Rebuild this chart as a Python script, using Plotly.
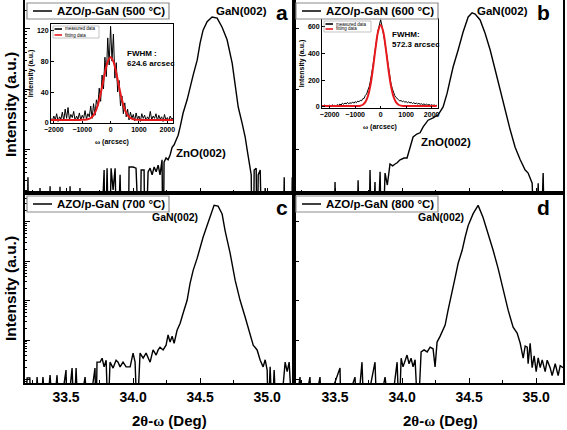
import numpy as np
import plotly.graph_objects as go

W, H = 567, 430

# ---------------- main 2theta-omega scans (log10 of counts; -1 = empty channel) -------------
two_theta_a = [33.194, 33.209, 33.216, 33.224, 33.300, 33.306, 33.312, 33.375, 33.381, 33.388,
               33.448, 33.455, 33.462, 33.522, 33.530, 33.537, 33.597, 33.604, 33.611, 33.754,
               33.784, 33.791, 33.806, 33.821, 33.836, 33.851, 33.866, 33.881, 33.903, 33.918,
               33.963, 33.970, 34.000, 34.022, 34.030, 34.052, 34.060, 34.082, 34.090, 34.112,
               34.127, 34.142, 34.157, 34.172, 34.187, 34.201, 34.216, 34.224, 34.231, 34.246,
               34.261, 34.276, 34.291, 34.306, 34.321, 34.336, 34.351, 34.373, 34.403, 34.425,
               34.448, 34.478, 34.500, 34.522, 34.552, 34.589, 34.627, 34.664, 34.701, 34.739,
               34.761, 34.784, 34.813, 34.836, 34.851, 34.866, 34.881, 34.888, 34.896, 34.903,
               34.918, 34.925, 34.933, 34.948, 34.963, 34.985, 35.007, 35.119, 35.127, 35.134,
               35.180, 35.187, 35.195, 35.200]
log_counts_a = [-1, -1, 0.53, -1, -1, 0.35, -1, -1, 0.38, -1,
                -1, 0.37, -1, -1, 0.38, -1, -1, 0.35, -1, -1,
                0.65, -1, 0.68, -1, 0.68, 0.32, 0.68, -1, 0.57, -1,
                -1, 0.70, 0.70, 0.68, -1, -1, 0.65, 0.65, -1, 0.62,
                0.68, 0.57, 0.70, 0.62, 0.73, 0.57, 0.82, -1, 0.78, 0.85,
                0.82, 0.90, 1.03, 1.07, 1.15, 1.23, 1.37, 1.60, 1.82, 2.03,
                2.23, 2.48, 2.77, 2.98, 3.12, 3.20, 3.18, 3.03, 2.82, 2.43,
                2.10, 1.70, 1.43, 1.20, 0.98, 0.73, 0.57, -1, -1, 0.65,
                0.68, -1, 0.57, 0.65, -1, 0.35, -1, -1, 0.53, -1,
                -1, 0.53, -1, -1]

two_theta_b = [33.194, 33.490, 33.500, 33.510, 33.660, 33.672, 33.685, 33.750, 33.761, 33.775,
               33.798, 33.810, 33.836, 33.850, 33.873, 33.890, 33.910, 33.930, 33.948, 33.963,
               33.985, 34.015, 34.037, 34.060, 34.082, 34.110, 34.134, 34.157, 34.194, 34.231,
               34.269, 34.306, 34.336, 34.358, 34.381, 34.418, 34.455, 34.493, 34.522, 34.545,
               34.582, 34.619, 34.657, 34.694, 34.731, 34.769, 34.806, 34.843, 34.881, 34.918,
               34.940, 34.970, 34.993, 35.015, 35.030, 35.052, 35.065, 35.200]
log_counts_b = [-1, -1, 0.45, -1, -1, 0.48, -1, -1, 0.65, -1,
                0.45, -1, 0.62, -1, 0.60, 0.40, 0.75, 0.72, 0.75, 0.77,
                0.82, 0.85, 0.85, 1.03, 1.20, 1.25, 1.27, 1.37, 1.48, 1.52,
                1.57, 1.70, 1.93, 2.15, 2.37, 2.65, 2.95, 3.20, 3.27, 3.25,
                3.15, 2.93, 2.65, 2.32, 1.98, 1.65, 1.32, 1.03, 0.82, 0.65,
                0.60, 0.43, -1, 0.43, -1, 0.60, -1, -1]

two_theta_c = [33.194, 33.210, 33.230, 33.240, 33.270, 33.284, 33.306, 33.328, 33.351, 33.381,
               33.403, 33.433, 33.448, 33.500, 33.507, 33.545, 33.560, 33.575, 33.590, 33.642,
               33.664, 33.716, 33.724, 33.731, 33.754, 33.769, 33.784, 33.799, 33.813, 33.828,
               33.851, 33.873, 33.888, 33.903, 33.925, 33.948, 33.978, 34.000, 34.015, 34.030,
               34.052, 34.075, 34.097, 34.127, 34.149, 34.172, 34.187, 34.201, 34.224, 34.246,
               34.261, 34.276, 34.291, 34.306, 34.328, 34.351, 34.373, 34.403, 34.425, 34.448,
               34.478, 34.500, 34.522, 34.552, 34.575, 34.604, 34.634, 34.664, 34.686, 34.724,
               34.761, 34.798, 34.836, 34.873, 34.896, 34.925, 34.948, 34.970, 34.985, 35.000,
               35.007, 35.022, 35.037, 35.052, 35.067, 35.097, 35.134, 35.149, 35.164, 35.187,
               35.200]
log_counts_c = [-1, 0.04, 0.04, -1, -1, 0.06, -1, 0.06, -1, 0.11,
                -1, 0.11, -1, 0.24, -1, 0.29, -1, 0.29, -1, 0.06,
                -1, 0.29, -1, 0.44, 0.44, 0.54, 0.32, 0.49, -1, 0.44,
                0.29, 0.49, 0.44, 0.32, 0.44, 0.32, 0.32, 0.67, 0.44, -1,
                0.67, 0.54, 0.67, 0.44, 0.75, 0.62, 0.75, 0.82, 0.75, 0.87,
                1.13, 0.95, 1.10, 0.92, 1.25, 1.43, 1.68, 2.01, 2.44, 2.77,
                3.08, 3.35, 3.61, 3.91, 4.16, 4.42, 4.40, 4.20, 3.78, 3.20,
                2.52, 2.01, 1.58, 1.18, 0.87, 0.75, 0.49, 0.32, 0.50, 0.24,
                -1, 0.32, -1, 0.24, -1, -1, 0.44, 0.20, 0.44, -1,
                -1]

two_theta_d = [33.194, 33.239, 33.254, 33.313, 33.328, 33.388, 33.403, 33.537, 33.545, 33.649,
               33.664, 33.701, 33.716, 33.798, 33.813, 33.873, 33.910, 33.963, 33.978, 33.993,
               34.007, 34.022, 34.037, 34.052, 34.067, 34.082, 34.097, 34.119, 34.142, 34.164,
               34.187, 34.209, 34.231, 34.246, 34.261, 34.284, 34.299, 34.321, 34.343, 34.373,
               34.396, 34.418, 34.448, 34.470, 34.493, 34.530, 34.567, 34.604, 34.642, 34.679,
               34.716, 34.754, 34.791, 34.828, 34.858, 34.881, 34.903, 34.918, 34.933, 34.940,
               34.955, 34.970, 34.985, 35.000, 35.015, 35.030, 35.045, 35.067, 35.082, 35.104,
               35.119, 35.142, 35.164, 35.179, 35.200]
log_counts_d = [-1, 0.06, -1, 0.06, -1, 0.06, -1, 0.29, -1, 0.06,
                -1, 0.44, -1, 0.44, -1, 0.06, -1, 0.44, -1, 0.54,
                0.32, 0.50, 0.62, 0.40, 0.54, 0.32, 0.50, -1, 0.70, 0.75,
                0.70, 0.82, 0.78, 0.32, 0.95, 1.10, 1.20, 1.38, 1.76, 2.19,
                2.59, 2.95, 3.28, 3.61, 3.91, 4.21, 4.42, 4.11, 3.71, 3.28,
                2.82, 2.27, 1.76, 1.33, 1.18, 0.92, 0.54, 0.85, 0.82, 0.40,
                0.92, 0.30, 0.60, 0.20, 0.55, 0.30, 0.50, 0.20, 0.49, 0.30,
                0.10, 0.40, 0.10, 0.35, 0.30]

# ---------------- rocking-curve insets ----------------
omega_a = [-2100, -2050, -2000, -1950, -1900, -1850, -1800, -1750, -1700, -1650,
           -1600, -1550, -1500, -1450, -1400, -1350, -1300, -1250, -1200, -1150,
           -1100, -1050, -1000, -950, -900, -850, -800, -750, -700, -650,
           -600, -550, -500, -450, -400, -350, -300, -250, -200, -150,
           -100, -50, 0, 50, 100, 150, 200, 250, 300, 350,
           400, 450, 500, 550, 600, 650, 700, 750, 800, 850,
           900, 950, 1000, 1050, 1100, 1150, 1200, 1250, 1300, 1350,
           1400, 1450, 1500, 1550, 1600, 1650, 1700, 1750, 1800, 1850,
           1900, 1950, 2000, 2050, 2100, 2150, 2200]
measured_a = [6, 3, 9, 4, 12, 2, 8, 5, 14, 3,
              18, 6, 20, 4, 11, 7, 15, 3, 9, 5,
              13, 4, 10, 6, 16, 5, 12, 8, 22, 6,
              25, 10, 30, 22, 45, 28, 62, 44, 85, 60,
              110, 75, 125, 80, 115, 58, 78, 40, 55, 22,
              35, 12, 26, 8, 18, 4, 14, 6, 11, 3,
              13, 5, 9, 2, 12, 6, 10, 3, 8, 5,
              15, 4, 9, 6, 12, 3, 10, 5, 8, 2,
              11, 4, 7, 3, 9, 5, 6]
omega_fit_a = [-2100, -2000, -1900, -1800, -1700, -1600, -1500, -1400, -1300, -1200,
               -1100, -1000, -900, -800, -700, -600, -500, -400, -300, -200,
               -100, 0, 100, 200, 300, 400, 500, 600, 700, 800,
               900, 1000, 1100, 1200, 1300, 1400, 1500, 1600, 1700, 1800,
               1900, 2000, 2100, 2200]
fit_a = [4, 4, 4, 4, 4, 4, 4, 4, 4, 4,
         4, 4.1, 4.3, 4.9, 6.5, 10.2, 17.7, 30, 46.7, 64.9,
         79.4, 85, 79.4, 64.9, 46.7, 30, 17.7, 10.2, 6.5, 4.9,
         4.3, 4.1, 4, 4, 4, 4, 4, 4, 4, 4,
         4, 4, 4, 4]

omega_b = [-2300, -2250, -2200, -2150, -2100, -2050, -2000, -1950, -1900, -1850,
           -1800, -1750, -1700, -1650, -1600, -1550, -1500, -1450, -1400, -1350,
           -1300, -1250, -1200, -1150, -1100, -1050, -1000, -950, -900, -850,
           -800, -750, -700, -650, -600, -550, -500, -450, -400, -350,
           -300, -250, -200, -150, -100, -50, 0, 50, 100, 150,
           200, 250, 300, 350, 400, 450, 500, 550, 600, 650,
           700, 750, 800, 850, 900, 950, 1000, 1050, 1100, 1150,
           1200, 1250, 1300, 1350, 1400, 1450, 1500, 1550, 1600, 1650,
           1700, 1750, 1800, 1850, 1900, 1950, 2000, 2050, 2100, 2150,
           2200]
measured_b = [10, 4, 12, 6, 9, 3, 11, 5, 14, 7,
              10, 6, 16, 9, 20, 12, 26, 18, 28, 20,
              32, 22, 30, 24, 36, 26, 38, 30, 42, 36,
              48, 44, 60, 62, 85, 95, 125, 150, 195, 245,
              310, 380, 450, 520, 575, 615, 655, 610, 565, 505,
              440, 365, 300, 235, 180, 140, 105, 85, 70, 58,
              52, 44, 46, 38, 42, 34, 38, 30, 36, 28,
              32, 24, 30, 22, 27, 20, 25, 18, 22, 16,
              21, 14, 19, 12, 17, 10, 15, 9, 13, 8,
              11]
omega_fit_b = [-2300, -2200, -2100, -2000, -1900, -1800, -1700, -1600, -1500, -1400,
               -1300, -1200, -1100, -1000, -900, -800, -700, -600, -500, -400,
               -300, -200, -100, 0, 100, 200, 300, 400, 500, 600,
               700, 800, 900, 1000, 1100, 1200, 1300, 1400, 1500, 1600,
               1700, 1800, 1900, 2000, 2100, 2200]
fit_b = [5, 5, 5, 5, 5, 5, 5, 5, 5, 5,
         5, 5, 5, 5, 5.6, 7.7, 14.6, 33.9, 78.4, 162,
         290, 440, 566, 615, 566, 440, 290, 162, 78.4, 33.9,
         14.6, 7.7, 5.6, 5, 5, 5, 5, 5, 5, 5,
         5, 5, 5, 5, 5, 5]

# ---------------- labels / ticks ----------------
x_tick_vals = [33.5, 34.0, 34.5, 35.0]
inset_x_ticks = [-2000, -1000, 0, 1000, 2000]
inset_a_y_ticks = [0, 40, 80, 120]
inset_b_y_ticks = [0, 200, 400, 600]
sample_labels = ["AZO/p-GaN (500 °C)", "AZO/p-GaN (600 °C)",
                 "AZO/p-GaN (700 °C)", "AZO/p-GaN (800 °C)"]
panel_letters = ["a", "b", "c", "d"]
fwhm_a = "FWHM :<br>624.6 arcsec"
fwhm_b = "FWHM:<br>572.3 arcsec"
x_title = ("2<span style='font-family:Liberation Serif'>θ</span>-"
           "<span style='font-family:Liberation Serif'>ω</span> (Deg)")
y_title = "Intensity (a.u.)"

scans = [(two_theta_a, log_counts_a), (two_theta_b, log_counts_b),
         (two_theta_c, log_counts_c), (two_theta_d, log_counts_d)]
for t, l in scans:
    assert len(t) == len(l)
assert len(omega_a) == len(measured_a) and len(omega_fit_a) == len(fit_a)
assert len(omega_b) == len(measured_b) and len(omega_fit_b) == len(fit_b)

FAM = "Liberation Sans, Arial, sans-serif"


def bf(size, color="black"):
    return dict(family=FAM, size=size, color=color, weight="bold")


def fx(p):
    return p / W


def fy(p):
    return 1 - p / H


cols = [(25, 294), (294, 563)]
rows = [(0, 193), (193, 383)]
yranges = [[0.267, 3.483], [-0.089, 4.734]]

fig = go.Figure()
layout = {}
for i, (tt, lc) in enumerate(scans):
    r, c = divmod(i, 2)
    xn = "x" if i == 0 else f"x{i + 1}"
    yn = "y" if i == 0 else f"y{i + 1}"
    fig.add_trace(go.Scatter(x=tt, y=np.power(10.0, lc), mode="lines",
                             line=dict(color="black", width=1.4),
                             xaxis=xn, yaxis=yn, showlegend=False,
                             name=sample_labels[i]))
    xa = dict(domain=[fx(cols[c][0]), fx(cols[c][1])], anchor=yn, automargin=False,
              range=[33.194, 35.2], tickvals=x_tick_vals, tickformat=".1f",
              ticks="inside", ticklen=5, tickwidth=1.2, tickcolor="black",
              minor=dict(ticks="inside", ticklen=3, dtick=0.25, tick0=33.25,
                         tickcolor="black", showgrid=False),
              showticklabels=(r == 1), tickfont=bf(14),
              showline=True, linewidth=1.6, linecolor="black", mirror=True,
              showgrid=False, zeroline=False)
    ya = dict(domain=[fy(rows[r][1]), fy(rows[r][0])], anchor=xn, type="log",
              automargin=False,
              range=yranges[r], dtick=1, ticks="inside", ticklen=5, tickwidth=1.2,
              tickcolor="black",
              minor=dict(ticks="inside", ticklen=2.5, dtick="D1", tickcolor="black",
                         showgrid=False),
              showticklabels=False, showline=True, linewidth=1.6, linecolor="black",
              mirror=True, showgrid=False, zeroline=False)
    layout["xaxis" if i == 0 else f"xaxis{i + 1}"] = xa
    layout["yaxis" if i == 0 else f"yaxis{i + 1}"] = ya

# insets
insets = [
    dict(om=omega_a, me=measured_a, of=omega_fit_a, fi=fit_a, n=5,
         xd=(51, 173), yd=(24, 123), xr=[-2100, 2200], yr=[0, 128], yt=inset_a_y_ticks),
    dict(om=omega_b, me=measured_b, of=omega_fit_b, fi=fit_b, n=6,
         xd=(322, 438), yd=(19, 108), xr=[-2300, 2250], yr=[-10, 660], yt=inset_b_y_ticks),
]
for ins in insets:
    n = ins["n"]
    fig.add_trace(go.Scatter(x=ins["om"], y=ins["me"], mode="lines",
                             line=dict(color="black", width=1),
                             xaxis=f"x{n}", yaxis=f"y{n}", showlegend=False,
                             name="measured data"))
    fig.add_trace(go.Scatter(x=ins["of"], y=ins["fi"], mode="lines",
                             line=dict(color="#e8191c", width=2, shape="spline"),
                             xaxis=f"x{n}", yaxis=f"y{n}", showlegend=False,
                             name="fitting data"))
    layout[f"xaxis{n}"] = dict(domain=[fx(ins["xd"][0]), fx(ins["xd"][1])], anchor=f"y{n}",
                               automargin=False,
                               range=ins["xr"], tickvals=inset_x_ticks,
                               ticks="inside", ticklen=2.5, tickcolor="black",
                               tickfont=bf(7), showline=True, linewidth=1,
                               linecolor="black", mirror=True, showgrid=False,
                               zeroline=False,
                               title=dict(text="<span style='font-family:Liberation Serif'>ω</span> (arcsec)",
                                          font=bf(7), standoff=6))
    layout[f"yaxis{n}"] = dict(domain=[fy(ins["yd"][1]), fy(ins["yd"][0])], anchor=f"x{n}",
                               automargin=False,
                               range=ins["yr"], tickvals=ins["yt"],
                               ticks="inside", ticklen=2.5, tickcolor="black",
                               tickfont=bf(7), showline=True, linewidth=1,
                               linecolor="black", mirror=True, showgrid=False,
                               zeroline=False,
                               title=dict(text=y_title, font=bf(7), standoff=2))

shapes = []
annotations = []

# main axis titles
for yy in (105, 289):
    annotations.append(dict(text=y_title, xref="paper", yref="paper", x=fx(10), y=fy(yy),
                            xanchor="center", yanchor="middle", textangle=-90,
                            showarrow=False, font=bf(15.5)))
for xx in (169, 440):
    annotations.append(dict(text=x_title, xref="paper", yref="paper", x=fx(xx), y=fy(420),
                            xanchor="center", yanchor="middle", showarrow=False, font=bf(15)))

# sample legends (boxes with line samples)
legend_boxes = [(27, 3), (296, 3), (27, 196), (296, 196)]
for (bx, by), lab in zip(legend_boxes, sample_labels):
    shapes.append(dict(type="rect", xref="paper", yref="paper",
                       x0=fx(bx), x1=fx(bx + 142), y0=fy(by + 16), y1=fy(by),
                       line=dict(color="#8c8c8c", width=1.2), fillcolor="white", layer="above"))
    shapes.append(dict(type="line", xref="paper", yref="paper",
                       x0=fx(bx + 6), x1=fx(bx + 25), y0=fy(by + 8), y1=fy(by + 8),
                       line=dict(color="black", width=1.5), layer="above"))
    annotations.append(dict(text=lab, xref="paper", yref="paper", x=fx(bx + 28), y=fy(by + 8),
                            xanchor="left", yanchor="middle", showarrow=False, font=bf(11.5)))

# panel letters
for (lx, ly), let in zip([(282, 13), (543, 13), (282, 207), (543, 207)], panel_letters):
    annotations.append(dict(text=let, xref="paper", yref="paper", x=fx(lx), y=fy(ly),
                            xanchor="center", yanchor="middle", showarrow=False, font=bf(21)))

# peak labels
for (lx, ly, txt, sz) in [(241, 11, "GaN(002)", 11.5), (502, 11, "GaN(002)", 11.5),
                          (201, 153, "ZnO(002)", 11.5), (446, 142, "ZnO(002)", 11.5),
                          (175, 217, "GaN(002)", 10.5), (441, 217, "GaN(002)", 10.5)]:
    annotations.append(dict(text=txt, xref="paper", yref="paper", x=fx(lx), y=fy(ly),
                            xanchor="center", yanchor="middle", showarrow=False, font=bf(sz)))

# FWHM labels
annotations.append(dict(text=fwhm_a, xref="paper", yref="paper", x=fx(125), y=fy(59),
                        xanchor="left", yanchor="middle", showarrow=False, font=bf(8),
                        align="left"))
annotations.append(dict(text=fwhm_b, xref="paper", yref="paper", x=fx(390), y=fy(39),
                        xanchor="left", yanchor="middle", showarrow=False, font=bf(8),
                        align="left"))

# inset legends
for (bx, by, bw, bh) in [(53, 26, 46, 12), (324, 21, 47, 11)]:
    shapes.append(dict(type="rect", xref="paper", yref="paper",
                       x0=fx(bx), x1=fx(bx + bw), y0=fy(by + bh), y1=fy(by),
                       line=dict(color="#9a9a9a", width=0.6), fillcolor="rgba(0,0,0,0)",
                       layer="above"))
    for k, (lab, col) in enumerate([("measured data", "black"), ("fitting data", "#e8191c")]):
        yy = by + 3 + k * (bh - 6)
        shapes.append(dict(type="line", xref="paper", yref="paper",
                           x0=fx(bx + 1.5), x1=fx(bx + 9), y0=fy(yy), y1=fy(yy),
                           line=dict(color=col, width=1.6), layer="above"))
        annotations.append(dict(text=lab, xref="paper", yref="paper", x=fx(bx + 10), y=fy(yy),
                                xanchor="left", yanchor="middle", showarrow=False,
                                font=dict(family=FAM, size=4.5, color="black")))

fig.update_layout(width=W, height=H, margin=dict(l=0, r=0, t=0, b=0, pad=0),
                  paper_bgcolor="white", plot_bgcolor="rgba(0,0,0,0)",
                  shapes=shapes, annotations=annotations, showlegend=False,
                  **layout)
fig.write_html("out.html", config={"displayModeBar": False},
               post_script="document.body.style.margin='0';document.body.style.overflow='hidden';")
